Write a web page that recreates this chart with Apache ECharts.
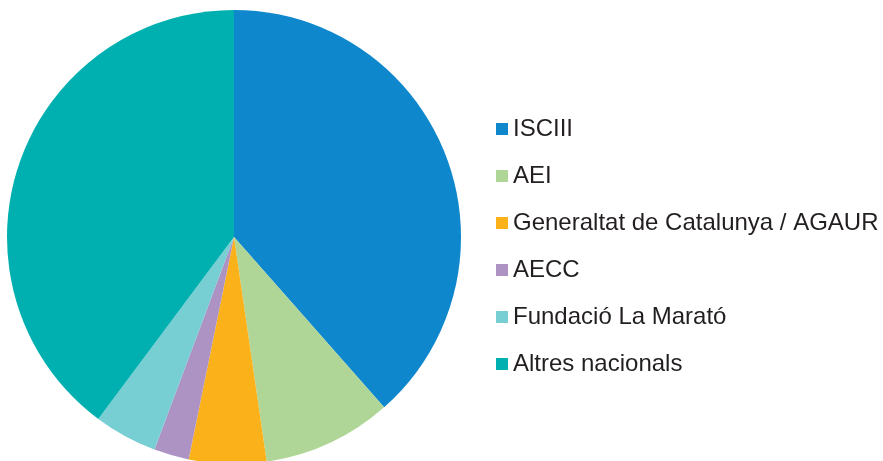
<!DOCTYPE html>
<html>
<head>
<meta charset="utf-8">
<script src="https://cdn.jsdelivr.net/npm/echarts@6/dist/echarts.min.js"></script>
<style>
  html, body { margin: 0; padding: 0; background: #fff; }
  #chart { width: 883px; height: 461px; }
</style>
</head>
<body>
<div id="chart"></div>
<script>
var categories = ['ISCIII', 'AEI', 'Generaltat de Catalunya / AGAUR', 'AECC', 'Fundació La Marató', 'Altres nacionals'];
var values = [38.5, 9.2, 5.5, 2.5, 4.5, 39.8];
var colors = ['#0f87cc', '#afd696', '#fbb11a', '#ac93c4', '#77ced3', '#00b0b0'];

var myChart = echarts.init(document.getElementById('chart'));

var pieData = [];
for (var i = 0; i < categories.length; i++) {
    pieData.push({
        name: categories[i],
        value: values[i],
        itemStyle: { color: colors[i] }
    });
}

var option = {
    animation: false,
    legend: {
        orient: 'vertical',
        left: 496,
        top: 117,
        padding: 0,
        icon: 'rect',
        itemWidth: 12,
        itemHeight: 12,
        itemGap: 23,
        itemStyle: { borderWidth: 0 },
        data: categories,
        textStyle: {
            fontFamily: '"Liberation Sans", Arial, Helvetica, sans-serif',
            fontSize: 24,
            lineHeight: 24,
            color: '#231f20'
        }
    },
    series: [{
        type: 'pie',
        center: [234, 237],
        radius: 227,
        startAngle: 90,
        clockwise: true,
        label: { show: false },
        labelLine: { show: false },
        itemStyle: { borderWidth: 0 },
        emphasis: { disabled: true },
        data: pieData
    }]
};

myChart.setOption(option);
</script>
</body>
</html>
